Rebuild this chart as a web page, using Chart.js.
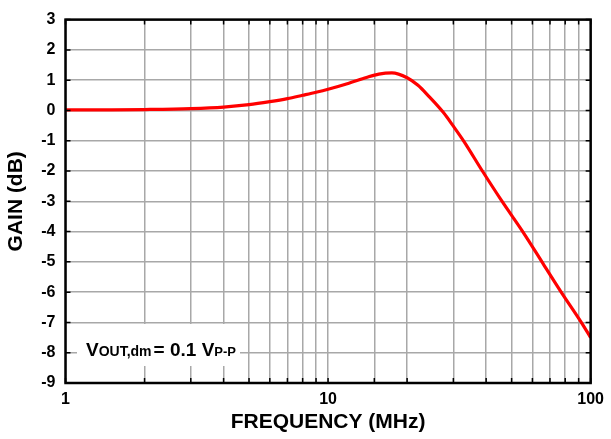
<!DOCTYPE html>
<html>
<head>
<meta charset="utf-8">
<script src="https://cdn.jsdelivr.net/npm/chart.js@4/dist/chart.umd.min.js"></script>
<style>
  html, body { margin: 0; padding: 0; background: #fff; }
  #wrap { width: 611px; height: 439px; position: relative; }
</style>
</head>
<body>
<div id="wrap"><canvas id="gainChart"></canvas></div>
<script>
// frequency (MHz) and gain (dB)
var freqs = [1, 1.5, 2, 3, 4, 5, 6, 7, 8, 9, 10, 12, 14, 15.6, 17.5, 20, 22, 24, 27.5, 30, 32.9, 38.7, 45.8, 55.9, 65.7, 77, 92.5, 100];
var gains = [0.02, 0.02, 0.03, 0.06, 0.11, 0.19, 0.29, 0.39, 0.5, 0.6, 0.7, 0.9, 1.09, 1.2, 1.24, 1.08, 0.83, 0.5, -0.07, -0.52, -1.02, -2, -2.98, -4.08, -5.04, -5.98, -7.02, -7.5];
var xLabels = [1, 10, 100];
var yMin = -9, yMax = 3;

var FONT = "'Liberation Sans', Arial, sans-serif";

var points = freqs.map(function(f, i) { return { x: f, y: gains[i] }; });

// frame, inward ticks and the note box
var framePlugin = {
  id: 'frame',
  afterDraw: function(chart) {
    var ctx = chart.ctx, a = chart.chartArea;
    var xs = chart.scales.x, ys = chart.scales.y;
    ctx.save();
    // note with white background
    ctx.fillStyle = '#fff';
    ctx.fillRect(77, 324, 163, 42);
    ctx.fillStyle = '#000';
    ctx.textBaseline = 'alphabetic';
    ctx.textAlign = 'left';
    var x = 86, base = 356;
    ctx.font = 'bold 19px ' + FONT;
    ctx.fillText('V', x, base); x += ctx.measureText('V').width;
    ctx.font = 'bold 14px ' + FONT;
    ctx.fillText('OUT,dm', x, base); x += ctx.measureText('OUT,dm').width + 2;
    ctx.font = 'bold 19px ' + FONT;
    ctx.fillText('= 0.1 V', x, base); x += ctx.measureText('= 0.1 V').width;
    ctx.font = 'bold 13px ' + FONT;
    ctx.fillText('P-P', x, base);

    // inward ticks
    ctx.strokeStyle = '#000';
    ctx.lineWidth = 1.5;
    ctx.beginPath();
    for (var v = yMin; v <= yMax; v++) {
      var py = ys.getPixelForValue(v);
      ctx.moveTo(a.left, py); ctx.lineTo(a.left + 5, py);
      ctx.moveTo(a.right, py); ctx.lineTo(a.right - 5, py);
    }
    xs.ticks.forEach(function(t) {
      var px = xs.getPixelForValue(t.value);
      ctx.moveTo(px, a.bottom); ctx.lineTo(px, a.bottom - 5);
      ctx.moveTo(px, a.top); ctx.lineTo(px, a.top + 5);
    });
    ctx.stroke();

    // frame
    ctx.lineWidth = 2.5;
    ctx.strokeRect(a.left, a.top, a.right - a.left, a.bottom - a.top);
    ctx.restore();
  }
};

new Chart(document.getElementById('gainChart'), {
  type: 'line',
  data: {
    datasets: [{
      data: points,
      borderColor: '#ff0000',
      borderWidth: 3.2,
      pointRadius: 0,
      fill: false,
      cubicInterpolationMode: 'monotone'
    }]
  },
  options: {
    responsive: true,
    maintainAspectRatio: false,
    animation: false,
    layout: { padding: { top: 10, right: 18, left: 0, bottom: 0 } },
    plugins: { legend: { display: false }, tooltip: { enabled: false } },
    scales: {
      x: {
        type: 'logarithmic',
        min: 1,
        max: 100,
        afterFit: function(s) { s.height = 56; },
        grid: { color: '#a8a8a8', lineWidth: 1.5, drawTicks: false },
        border: { display: false },
        ticks: {
          autoSkip: false,
          maxRotation: 0,
          padding: 7,
          color: '#000',
          font: { family: FONT, size: 16, weight: 'bold' },
          callback: function(v) { return xLabels.indexOf(v) >= 0 ? String(v) : ''; }
        },
        title: {
          display: true,
          text: 'FREQUENCY (MHz)',
          color: '#000',
          padding: { top: 8 },
          font: { family: FONT, size: 21, weight: 'bold' }
        }
      },
      y: {
        min: yMin,
        max: yMax,
        afterFit: function(s) { s.width = 65.5; },
        grid: { color: '#a8a8a8', lineWidth: 1.5, drawTicks: false },
        border: { display: false },
        ticks: {
          stepSize: 1,
          padding: 10,
          color: '#000',
          font: { family: FONT, size: 16, weight: 'bold' }
        },
        title: {
          display: true,
          text: 'GAIN (dB)',
          color: '#000',
          padding: { top: 4, bottom: 0 },
          font: { family: FONT, size: 21, weight: 'bold' }
        }
      }
    }
  },
  plugins: [framePlugin]
});
</script>
</body>
</html>
